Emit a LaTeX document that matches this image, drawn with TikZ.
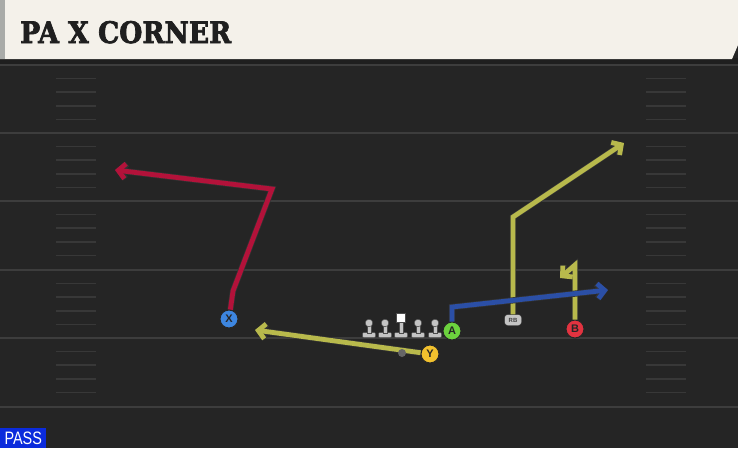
\documentclass[tikz,border=0pt]{standalone}
\usepackage{fontspec}
\setmainfont{DejaVu Serif}
\setsansfont{Liberation Sans}
\newfontfamily\titlefont{DejaVu Serif}[FakeBold=2.5]
\usetikzlibrary{arrows.meta}

\definecolor{fieldbg}{HTML}{252525}
\definecolor{yardgray}{HTML}{3D3D3D}
\definecolor{hashgray}{HTML}{383838}
\definecolor{titlecream}{HTML}{F4F1EA}
\definecolor{titleedge}{HTML}{A9ABA8}
\definecolor{routered}{HTML}{B3123A}
\definecolor{routeyellow}{HTML}{B8B94C}
\definecolor{routeblue}{HTML}{2B4FA6}
\definecolor{xblue}{HTML}{3D86E0}
\definecolor{yyellow}{HTML}{F2C12E}
\definecolor{agreen}{HTML}{6CD23E}
\definecolor{bred}{HTML}{E23340}
\definecolor{olgray}{HTML}{C4C4C4}
\definecolor{passblue}{HTML}{0B2BDC}

\begin{document}
\begin{tikzpicture}[x=1pt,y=-1pt,
	yardline/.style={yardgray,line width=2pt},
	hashline/.style={hashgray,line width=1.6pt},
	player/.style={circle,draw=black!85,line width=1pt,minimum size=18pt,inner sep=0pt,
		font=\sffamily\bfseries\fontsize{11}{11}\selectfont,text=black!85},
	route/.style={line width=4.8pt,line join=miter,
		-{Straight Barb[length=7pt,width=15pt]},
		preaction={draw=black!80,line width=6.2pt}},
	lineman/.style={olgray,draw=black!70,line width=0.5pt}]
	\useasboundingbox (0,0) rectangle (738,448);
	% field
	\fill[fieldbg] (0,0) rectangle (738,448);
	\foreach \y in {65,133,201,270,338,407}
		\draw[yardline] (0,\y) -- (738,\y);
	\foreach \y in {65,133,201,270,338}
		\foreach \k in {1,...,4} {
			\draw[hashline] (56,{\y+13.6*\k}) -- (96,{\y+13.6*\k});
			\draw[hashline] (646,{\y+13.6*\k}) -- (686,{\y+13.6*\k});
		}
	
	% title bar
	\fill[black!88] (0,58) rectangle (738,64);
	\fill[titlecream] (0,0) -- (738,0) -- (738,45) -- (732,59) -- (0,59) -- cycle;
	\fill[titleedge] (0,0) rectangle (5,59);
	\node[anchor=base west,inner sep=0pt,text=black!88] (title) at (20,43)
		{\resizebox{211pt}{22pt}{\titlefont\bfseries PA X CORNER}};
	
	% offensive line
	\foreach \x in {369,385,418,435} {
		\filldraw[lineman,rounded corners=1pt] (\x-6.5,332.5) rectangle (\x+6.5,337.5);
		\filldraw[lineman] (\x-2.2,324) rectangle (\x+2.2,333);
		\filldraw[lineman] (\x,323) circle (3.8);
	}
	\filldraw[lineman,rounded corners=1pt] (394.5,332.5) rectangle (407.5,337.5);
	\filldraw[lineman] (398.8,320) rectangle (403.2,333);
	\filldraw[white,draw=black!70,line width=0.5pt] (396.5,313.5) rectangle (405.5,322.5);
	
	% players
	\node[player,fill=xblue] (X) at (229,319) {X};
	\node[player,fill=yyellow] (Y) at (430,354) {Y};
	\node[player,fill=agreen] (A) at (452,331) {A};
	\node[player,fill=bred] (B) at (575,329) {B};
	\node[draw=black!85,fill=olgray,rounded corners=3pt,minimum width=17pt,minimum height=11pt,
		inner sep=0pt,font=\sffamily\bfseries\fontsize{6}{6}\selectfont,text=black!75] (RB) at (513,320) {RB};
	
	% routes
	\coordinate (x1) at (233,291);
	\coordinate (x2) at (272,189);
	\coordinate (x3) at (115,170);
	\draw[route,routered] (X) -- (x1) -- (x2) -- (x3);
	
	\coordinate (y1) at (255,330);
	\draw[route,routeyellow] (Y) -- (y1);
	
	\coordinate (rb1) at (513,217);
	\coordinate (rb2) at (624,143);
	\draw[route,routeyellow] (RB) -- (rb1) -- (rb2);
	
	\coordinate (b1) at (575,265);
	\coordinate (b2) at (560,278);
	\draw[route,routeyellow] (B) -- (b1) -- (b2);
	
	\coordinate (a1) at (452,307);
	\coordinate (a2) at (608,290);
	\draw[route,routeblue] (A) -- (a1) -- (a2);
	
	% quarterback
	\fill[gray!80!black] (402,353) circle (4);
	
	\node[fill=passblue,text=white,anchor=south west,minimum width=46pt,minimum height=20pt,inner sep=0pt,
		font=\sffamily\fontsize{18}{18}\selectfont] (pass) at (0,448) {\scalebox{0.8}[1]{PASS}};
\end{tikzpicture}
\end{document}
